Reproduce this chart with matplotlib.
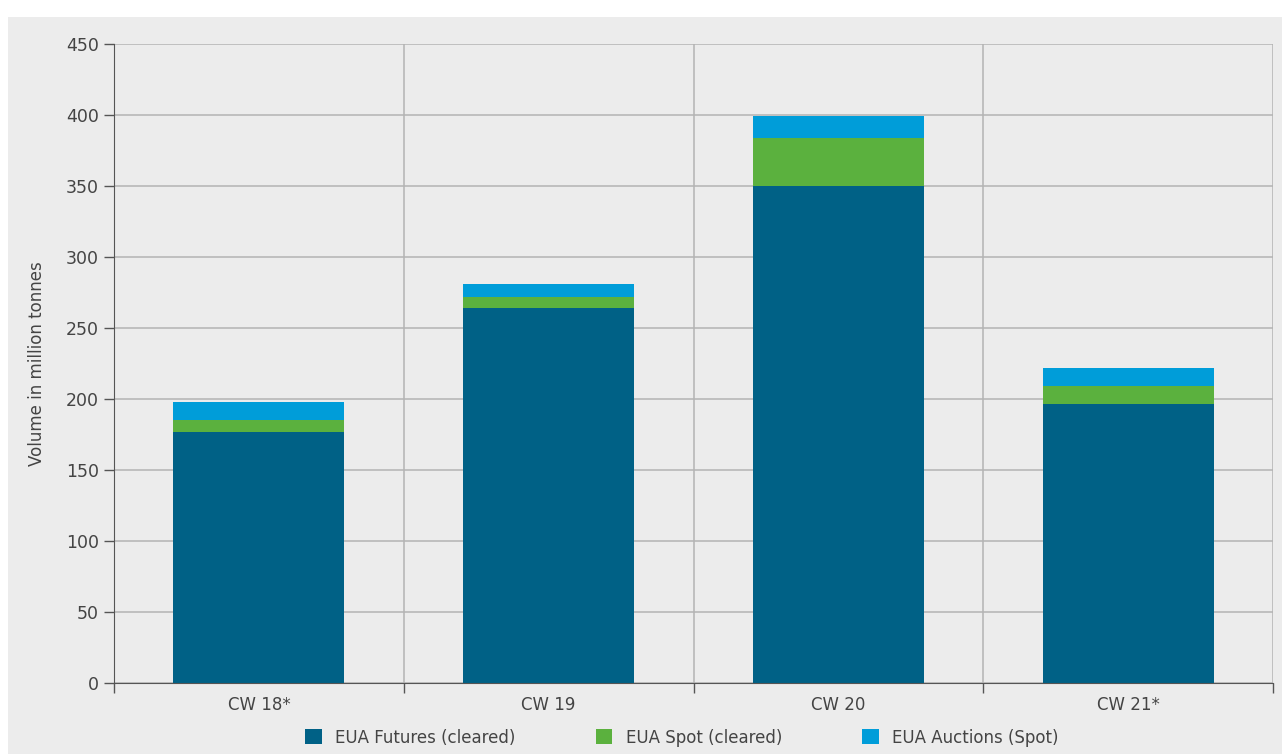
import matplotlib.pyplot as plt
import matplotlib.patches as mpatches
import numpy as np

weeks = ["CW 18*", "CW 19", "CW 20", "CW 21*"]
futures = [177, 264, 350, 196.5]
spot = [8.5, 8, 34, 12.5]
auctions = [12.5, 9, 15, 12.5]

c_fut = "#006186"
c_spot = "#5bb13e"
c_auc = "#009dd9"
bg = "#ececec"
grid = "#b3b3b3"
txt = "#444444"

plt.rcParams['font.family'] = ['DejaVu Sans']

fig = plt.figure(figsize=(12.82, 7.54), dpi=100, facecolor="white")
fig.patches.append(mpatches.Rectangle((8/1282, 0), 1, 1 - 17/754, transform=fig.transFigure,
                                      facecolor=bg, edgecolor="none", zorder=-10))
ax = fig.add_axes([114/1282, 1 - 683/754, (1273-114)/1282, (683-44)/754])
ax.set_facecolor(bg)

x = np.arange(len(weeks))
w = 0.59
ax.bar(x, futures, w, color=c_fut, label="EUA Futures (cleared)", zorder=3)
ax.bar(x, spot, w, bottom=futures, color=c_spot, label="EUA Spot (cleared)", zorder=3)
b2 = np.array(futures) + np.array(spot)
ax.bar(x, auctions, w, bottom=b2, color=c_auc, label="EUA Auctions (Spot)", zorder=3)

ax.set_xlim(-0.5, 3.5)
ax.set_ylim(0, 450)
ax.set_yticks(np.arange(0, 451, 50))
ax.set_xticks(x)
ax.set_xticklabels(weeks)
ax.set_xticks(np.arange(-0.5, 3.6, 1), minor=True)
ax.tick_params(axis="x", which="major", length=0, pad=9, labelsize=12, labelcolor=txt)
ax.tick_params(axis="x", which="minor", length=7, width=1, color="#555555")
ax.tick_params(axis="y", length=7, width=1, color="#555555", labelsize=12.5, labelcolor=txt, pad=4)

ax.yaxis.grid(True, color=grid, lw=1.1, zorder=0)
ax.xaxis.grid(True, which="minor", color=grid, lw=1.1, zorder=0)
for s in ["top", "right"]:
    ax.spines[s].set_visible(False)
ax.spines["left"].set_color("#555555")
ax.spines["bottom"].set_color("#555555")
ax.spines["left"].set_zorder(4)
ax.spines["bottom"].set_zorder(4)

ax.set_ylabel("Volume in million tonnes", fontsize=12, color=txt, labelpad=14)

fig.legend(loc="lower center", bbox_to_anchor=(0.532, -0.01), ncol=3, frameon=False,
           fontsize=12, handlelength=1.0, handleheight=1.0, columnspacing=4.8,
           labelcolor=txt)

fig.savefig("out.png", dpi=100, facecolor="white")
